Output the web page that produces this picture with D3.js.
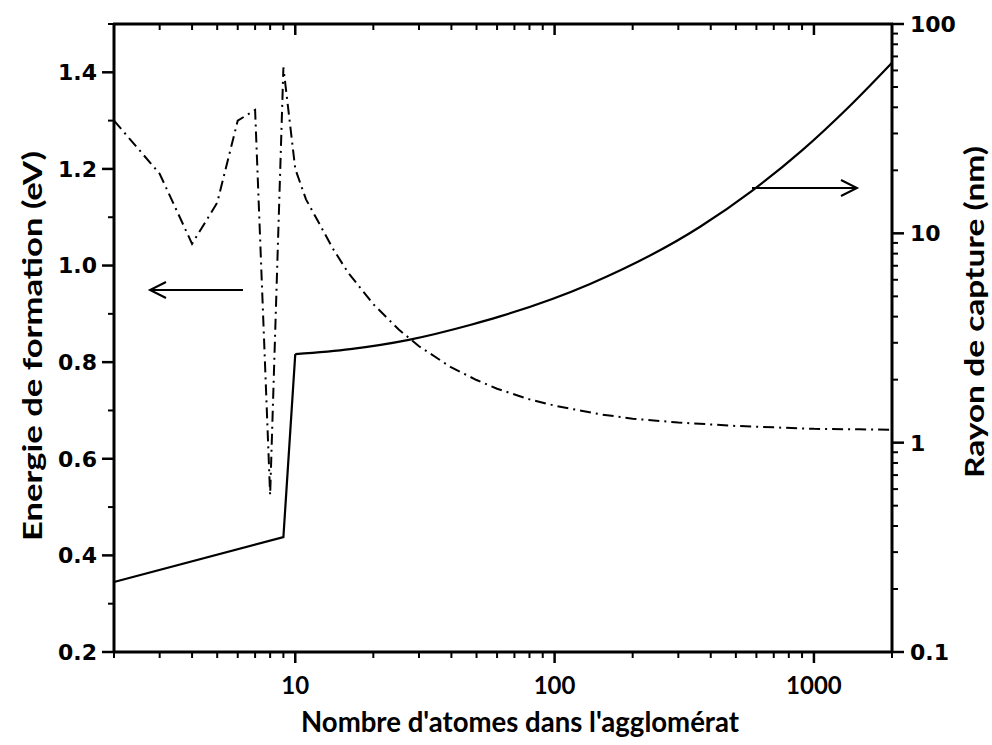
<!DOCTYPE html>
<html><head><meta charset="utf-8">
<script src="https://cdn.jsdelivr.net/npm/d3@7"></script>
<style>
html,body{margin:0;padding:0;background:#fff;}
svg{display:block;}
</style></head>
<body>
<script>
// ---- data ----
const energyN = [2,3,4,5,6,7,8,9,10,11,12,14,16,20,25,30,40,50,60,80,100,150,200,300,500,700,1000,1500,2000];
const energyE = [1.30,1.19,1.045,1.13,1.30,1.322,0.525,1.41,1.20,1.137,1.10,1.034,0.985,0.92,0.868,0.833,0.789,0.763,0.745,0.723,0.71,0.692,0.683,0.675,0.668,0.665,0.662,0.661,0.660];
const radiusN = [2,9,10,16.3,27.4,47.6,61.6,137,364,577,900,1378,2000];
const radiusR = [0.216,0.354,2.65,2.80,3.10,3.66,4.01,5.73,10.75,15.96,24.9,40.7,65.3];
const xTickLabels = [10,100,1000];
const yLeftTicks = [0.2,0.4,0.6,0.8,1.0,1.2,1.4];
const yRightTicks = [0.1,1,10,100];

const W=992,H=745;
const m={l:114,r:892,t:24,b:652};
const svg=d3.select("body").append("svg").attr("width",W).attr("height",H);
svg.append("rect").attr("width",W).attr("height",H).attr("fill","#fff");

const x=d3.scaleLog().domain([2,2000]).range([m.l,m.r]);
const yL=d3.scaleLinear().domain([0.2,1.5]).range([m.b,m.t]);
const yR=d3.scaleLog().domain([0.1,100]).range([m.b,m.t]);

const g=svg.append("g");
const stroke="#000";

// minor/major x ticks
const xMinor=[];
[1,10,100,1000].forEach(d=>{for(let k=2;k<=9;k++){const v=d*k; if(v>=2&&v<=2000 && ![10,100,1000].includes(v)) xMinor.push(v);}});
xMinor.push(2000);
// bottom ticks (outward)
xMinor.forEach(v=>g.append("line").attr("x1",x(v)).attr("x2",x(v)).attr("y1",m.b).attr("y2",m.b+6).attr("stroke",stroke).attr("stroke-width",2));
xTickLabels.forEach(v=>g.append("line").attr("x1",x(v)).attr("x2",x(v)).attr("y1",m.b).attr("y2",m.b+11).attr("stroke",stroke).attr("stroke-width",2.5));
// top ticks (inward)
xMinor.forEach(v=>g.append("line").attr("x1",x(v)).attr("x2",x(v)).attr("y1",m.t).attr("y2",m.t+6).attr("stroke",stroke).attr("stroke-width",2));
xTickLabels.forEach(v=>g.append("line").attr("x1",x(v)).attr("x2",x(v)).attr("y1",m.t).attr("y2",m.t+11).attr("stroke",stroke).attr("stroke-width",2.5));
// x labels
xTickLabels.forEach(v=>g.append("text").attr("x",x(v)).attr("y",694).attr("text-anchor","middle")
  .attr("font-family","Lato, 'Open Sans', sans-serif").attr("font-weight","bold").attr("font-size",24).text(v));

// left ticks
const yLMinor=[0.3,0.5,0.7,0.9,1.1,1.3,1.5];
yLMinor.forEach(v=>g.append("line").attr("x1",m.l-6).attr("x2",m.l).attr("y1",yL(v)).attr("y2",yL(v)).attr("stroke",stroke).attr("stroke-width",2));
yLeftTicks.forEach(v=>{
  g.append("line").attr("x1",m.l-12).attr("x2",m.l).attr("y1",yL(v)).attr("y2",yL(v)).attr("stroke",stroke).attr("stroke-width",2.5);
  g.append("text").attr("x",97).attr("y",yL(v)).attr("dy","0.36em").attr("text-anchor","end")
   .attr("font-family","'DejaVu Sans', Verdana, sans-serif").attr("font-weight","bold").attr("font-size",22).text(d3.format(".1f")(v));
});

// right ticks
const yRMinor=[];
[0.1,1,10].forEach(d=>{for(let k=2;k<=9;k++) yRMinor.push(d*k);});
yRMinor.forEach(v=>g.append("line").attr("x1",m.r).attr("x2",m.r+6).attr("y1",yR(v)).attr("y2",yR(v)).attr("stroke",stroke).attr("stroke-width",2));
yRightTicks.forEach(v=>{
  g.append("line").attr("x1",m.r).attr("x2",m.r+12).attr("y1",yR(v)).attr("y2",yR(v)).attr("stroke",stroke).attr("stroke-width",2.5);
  g.append("text").attr("x",910).attr("y",yR(v)).attr("dy","0.36em").attr("text-anchor","start")
   .attr("font-family","'DejaVu Sans', Verdana, sans-serif").attr("font-weight","bold").attr("font-size",22).text(v);
});

// frame
g.append("line").attr("x1",m.l).attr("x2",m.l).attr("y1",m.t).attr("y2",m.b+1).attr("stroke",stroke).attr("stroke-width",3);
g.append("line").attr("x1",m.r).attr("x2",m.r).attr("y1",m.t).attr("y2",m.b+1).attr("stroke",stroke).attr("stroke-width",3);
g.append("line").attr("x1",m.l-1).attr("x2",m.r+1).attr("y1",m.b).attr("y2",m.b).attr("stroke",stroke).attr("stroke-width",3);
g.append("line").attr("x1",m.l-1).attr("x2",m.r+1).attr("y1",m.t).attr("y2",m.t).attr("stroke",stroke).attr("stroke-width",3);

// data lines
const energy=energyN.map((n,i)=>[n,energyE[i]]);
const radius=radiusN.map((n,i)=>[n,radiusR[i]]);
g.append("path").datum(energy).attr("fill","none").attr("stroke",stroke).attr("stroke-width",2)
  .attr("stroke-dasharray","11,5,2,5")
  .attr("d",d3.line().x(d=>x(d[0])).y(d=>yL(d[1])));
const lin=d3.line().x(d=>x(d[0])).y(d=>yR(d[1]));
const smooth=d3.line().x(d=>x(d[0])).y(d=>yR(d[1])).curve(d3.curveMonotoneX);
g.append("path").datum(radius.slice(0,3)).attr("fill","none").attr("stroke",stroke).attr("stroke-width",2.2).attr("d",lin);
g.append("path").datum(radius.slice(2)).attr("fill","none").attr("stroke",stroke).attr("stroke-width",2.2).attr("d",smooth);

// arrows
function arrow(x1,x2,yy){
  g.append("line").attr("x1",x1).attr("x2",x2).attr("y1",yy).attr("y2",yy).attr("stroke",stroke).attr("stroke-width",2);
  const s=Math.sign(x1-x2);
  g.append("path").attr("d",`M${x2+s*16},${yy-8} L${x2},${yy} L${x2+s*16},${yy+8}`).attr("fill","none").attr("stroke",stroke).attr("stroke-width",2);
}
arrow(243,150,290);
arrow(752,857,188);

// titles
const tf="Lato, 'Open Sans', sans-serif";
svg.append("text").attr("x",520).attr("y",732).attr("text-anchor","middle")
  .attr("font-family",tf).attr("font-weight","bold").attr("font-size",28)
  .attr("textLength",438).attr("lengthAdjust","spacingAndGlyphs")
  .text("Nombre d'atomes dans l'agglomérat");
svg.append("text").attr("transform","translate(42,346) rotate(-90)").attr("text-anchor","middle")
  .attr("font-family",tf).attr("font-weight","bold").attr("font-size",27)
  .attr("textLength",390).attr("lengthAdjust","spacingAndGlyphs")
  .text("Energie de formation (eV)");
svg.append("text").attr("transform","translate(984,312) rotate(-90)").attr("text-anchor","middle")
  .attr("font-family",tf).attr("font-weight","bold").attr("font-size",27)
  .attr("textLength",332).attr("lengthAdjust","spacingAndGlyphs")
  .text("Rayon de capture (nm)");
</script>
</body></html>
